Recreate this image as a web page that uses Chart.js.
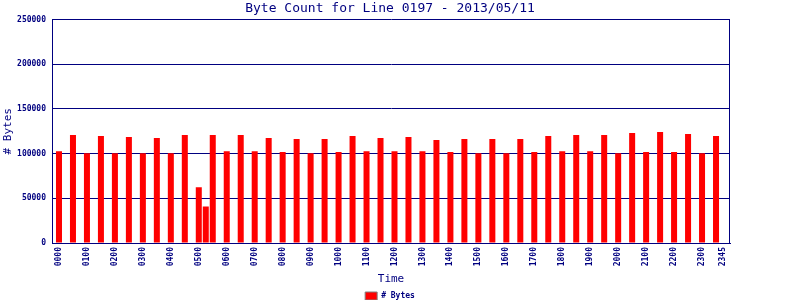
<!DOCTYPE html>
<html>
<head>
<meta charset="utf-8">
<script src="https://cdn.jsdelivr.net/npm/chart.js@4/dist/chart.umd.min.js"></script>
<style>
    html, body { margin: 0; padding: 0; background: #fff; }
    #chart { display: block; }
</style>
</head>
<body>
<canvas id="chart" width="800" height="300"></canvas>
<script>
// --- DATA ---
const chartTitle = "Byte Count for Line 0197 - 2013/05/11";
const seriesName = "# Bytes";

// intervals that have a sample (hhmm)
const sampleTimes = [
    "0000", "0030", "0100", "0130", "0200", "0230", "0300", "0330",
    "0400", "0430", "0500", "0515", "0530", "0600", "0630", "0700",
    "0730", "0800", "0830", "0900", "0930", "1000", "1030", "1100",
    "1130", "1200", "1230", "1300", "1330", "1400", "1430", "1500",
    "1530", "1600", "1630", "1700", "1730", "1800", "1830", "1900",
    "1930", "2000", "2030", "2100", "2130", "2200", "2230", "2300",
    "2330"
];
const byteCounts = [
    102800, 120800, 100300, 119700, 100300, 118600, 100300, 117500,
    100300, 120800, 62300, 40900, 120800, 102800, 120800, 102800,
    117500, 101700, 116300, 100300, 116300, 101700, 119700, 102800,
    117500, 102800, 118600, 102800, 115200, 101700, 116300, 100300,
    116300, 100300, 116300, 101700, 119700, 102800, 120800, 102800,
    120800, 100300, 123100, 101700, 124200, 101700, 122000, 100300,
    119700
];
const yTicks = [0, 50000, 100000, 150000, 200000, 250000];

// every 15 minute slot of the day is a category
const slotLabels = [];
for (let h = 0; h < 24; h++) {
    for (let m = 0; m < 60; m += 15) {
        slotLabels.push(String(h).padStart(2, '0') + String(m).padStart(2, '0'));
    }
}
// one empty slot on each side, like the original plot
const axisLabels = [' ', ...slotLabels, '  '];

const navy = '#000080';
const mono = '"DejaVu Sans Mono", monospace';

// --- FRAME PLUGIN (right border of the plot) ---
const framePlugin = {
    id: 'frame',
    afterDatasetsDraw(chart) {
        const { ctx, chartArea: a } = chart;
        const x = Math.round(a.right) - 0.5;
        ctx.save();
        ctx.strokeStyle = navy;
        ctx.lineWidth = 1;
        ctx.beginPath();
        ctx.moveTo(x, Math.round(a.top));
        ctx.lineTo(x, Math.round(a.bottom));
        ctx.stroke();
        ctx.restore();
    }
};

// --- CHART ---
const ctx = document.getElementById('chart').getContext('2d');
new Chart(ctx, {
    type: 'bar',
    data: {
        labels: axisLabels,
        datasets: [{
            label: seriesName,
            data: sampleTimes.map((t, i) => ({ x: t, y: byteCounts[i] })),
            backgroundColor: '#ff0000',
            borderWidth: 0,
            barPercentage: 1,
            categoryPercentage: 0.86
        }]
    },
    options: {
        responsive: false,
        animation: false,
        devicePixelRatio: 1,
        layout: { padding: { left: 0, right: 20, top: 0, bottom: -10 } },
        plugins: {
            title: {
                display: true,
                text: chartTitle,
                color: navy,
                font: { family: mono, size: 13, weight: 'normal' },
                padding: { top: 1, bottom: 3 }
            },
            legend: {
                display: true,
                position: 'bottom',
                labels: {
                    color: navy,
                    font: { family: mono, size: 8, weight: 'bold' },
                    boxWidth: 12,
                    boxHeight: 8,
                    padding: 3,
                    generateLabels: (chart) => [{
                        text: seriesName,
                        fillStyle: '#ff0000',
                        strokeStyle: '#808080',
                        lineWidth: 1,
                        fontColor: navy,
                        datasetIndex: 0
                    }]
                }
            },
            tooltip: { enabled: false }
        },
        scales: {
            x: {
                type: 'category',
                offset: false,
                z: 1,
                grid: { display: false, drawTicks: false },
                border: { color: navy, width: 1 },
                ticks: {
                    autoSkip: false,
                    minRotation: 90,
                    maxRotation: 90,
                    padding: 4,
                    color: navy,
                    font: { family: mono, size: 8, weight: 'bold' },
                    callback: function (val, i) {
                        const k = i - 1;
                        if (k < 0 || k >= slotLabels.length) return '';
                        return (k % 4 === 0 || k === slotLabels.length - 1) ? slotLabels[k] : '';
                    }
                },
                title: {
                    display: true,
                    text: 'Time',
                    color: navy,
                    font: { family: mono, size: 11, weight: 'normal' },
                    padding: { top: 0, bottom: 3 }
                },
                afterFit: (scale) => { scale.height = 46; }
            },
            y: {
                min: 0,
                max: 250000,
                z: 1,
                afterBuildTicks: (scale) => { scale.ticks = yTicks.map(v => ({ value: v })); },
                grid: { color: navy, lineWidth: 1, drawTicks: false },
                border: { color: navy, width: 1 },
                ticks: {
                    padding: 6,
                    color: navy,
                    font: { family: mono, size: 8, weight: 'bold' },
                    callback: (v) => String(v)
                },
                title: {
                    display: true,
                    text: '# Bytes',
                    color: navy,
                    font: { family: mono, size: 11, weight: 'normal' },
                    padding: { top: 2, bottom: 0 }
                },
                afterFit: (scale) => { scale.width = 52; }
            },
            // empty right-hand strip so the plot ends where the original does
            spacer: {
                type: 'linear',
                position: 'right',
                display: true,
                grid: { display: false, drawTicks: false },
                border: { display: false },
                ticks: { display: false },
                afterFit: (scale) => { scale.width = 50; }
            }
        }
    },
    plugins: [framePlugin]
});
</script>
</body>
</html>
